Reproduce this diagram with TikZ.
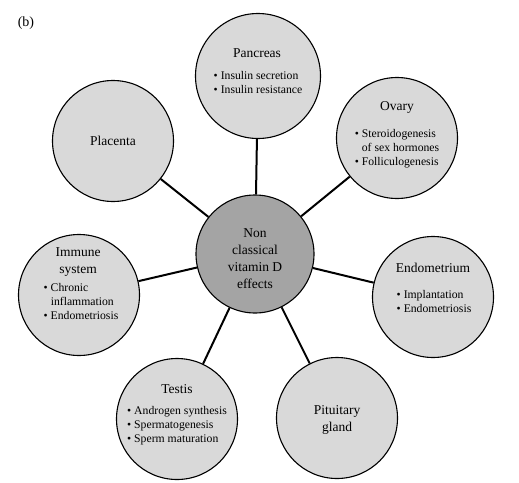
\documentclass[tikz,border=0pt]{standalone}
\usepackage{fontspec}
\setmainfont{Liberation Serif}
\definecolor{outerfill}{HTML}{D9D9D9}
\definecolor{hubfill}{HTML}{A4A4A4}
\newcommand\bitems[1]{\begin{tabular}{@{}l@{\hspace{3pt}}l@{}}#1\end{tabular}}
\begin{document}
\begin{tikzpicture}[x=1pt,y=-1pt,
  organ/.style={circle,draw=black,line width=1.1pt,fill=outerfill,minimum size=121pt,inner sep=0pt},
  hub/.style={circle,draw=black,line width=1.1pt,fill=hubfill,minimum size=118pt,inner sep=0pt},
  spoke/.style={line width=2pt,draw=black},
  ttl/.style={font=\fontsize{13.5}{17}\selectfont,align=center,inner sep=0pt},
  blt/.style={font=\fontsize{11.7}{14}\selectfont,inner sep=0pt},
]
\useasboundingbox (0,0) rectangle (519,482);
% circles
\node[hub] (hub) at (255,254) {};
\node[organ,minimum size=125pt] (panc) at (258,76) {};
\node[organ] (ovary) at (397,138) {};
\node[organ] (plac) at (113,141) {};
\node[organ] (immune) at (79,295) {};
\node[organ] (endo) at (433,297) {};
\node[organ] (testis) at (177,419) {};
\node[organ] (pit) at (337,418) {};
% spokes
\foreach \n in {panc,ovary,plac,immune,endo,testis,pit}
  \draw[spoke] (hub) -- (\n);
% label
\node[font=\fontsize{14}{16}\selectfont,inner sep=0pt] (lab) at (26,23) {(b)};
% texts
\node[ttl] (hub-t) at (255,259) {Non\\classical\\vitamin D\\effects};
\node[ttl] (panc-t) at (257,53) {Pancreas};
\node[blt] (panc-b) at (258,83.5) {\bitems{\textbullet & Insulin secretion\\ \textbullet & Insulin resistance}};
\node[ttl] (ovary-t) at (397,107) {Ovary};
\node[blt] (ovary-b) at (397,149) {\bitems{\textbullet & Steroidogenesis\\ & of sex hormones\\ \textbullet & Folliculogenesis}};
\node[ttl] (plac-t) at (113,141) {Placenta};
\node[ttl] (immune-t) at (78,262) {Immune\\system};
\node[blt] (immune-b) at (81,303) {\bitems{\textbullet & Chronic\\ & inflammation\\ \textbullet & Endometriosis}};
\node[ttl] (endo-t) at (433,268) {Endometrium};
\node[blt] (endo-b) at (434,302.5) {\bitems{\textbullet & Implantation\\ \textbullet & Endometriosis}};
\node[ttl] (testis-t) at (177,389) {Testis};
\node[blt] (testis-b) at (177,426) {\bitems{\textbullet & Androgen synthesis\\ \textbullet & Spermatogenesis\\ \textbullet & Sperm maturation}};
\node[ttl] (pit-t) at (337,419.5) {Pituitary\\gland};
\end{tikzpicture}
\end{document}
